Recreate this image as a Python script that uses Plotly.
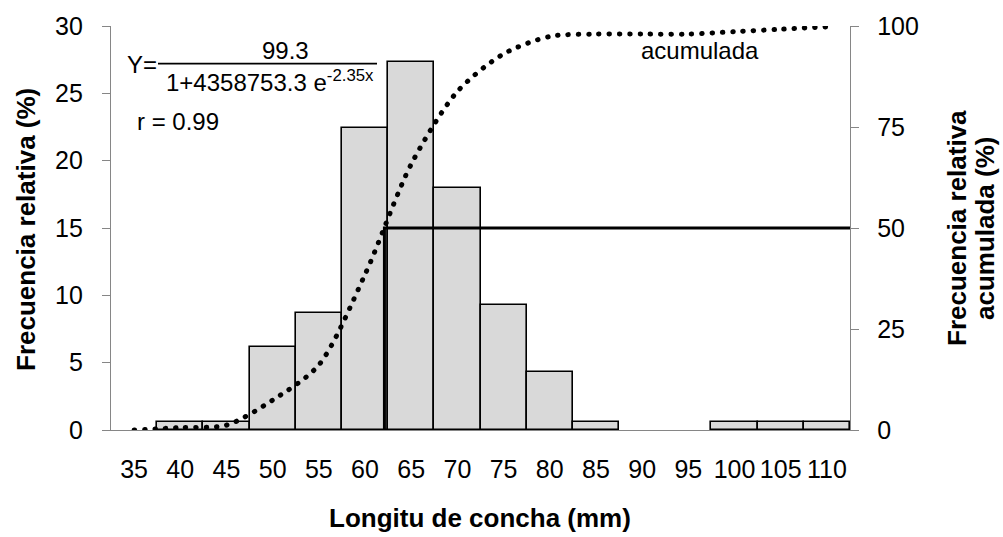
import plotly.graph_objects as go

# ---- data ----
lengths = [35, 40, 45, 50, 55, 60, 65, 70, 75, 80, 85, 90, 95, 100, 105, 110]
tick_labels = [str(v) for v in lengths]
freq_rel = [0, 0.6, 0.6, 6.2, 8.7, 22.4, 27.3, 18.0, 9.3, 4.3, 0.6, 0, 0, 0.6, 0.6, 0.6]
freq_acum = [0, 0.6, 1.2, 7.4, 16.1, 38.5, 65.8, 83.8, 93.1, 97.4, 98.0, 98.0, 98.0, 98.6, 99.2, 99.8]
median_x = 62.1
median_y = 50
left_ticks = [0, 5, 10, 15, 20, 25, 30]
right_ticks = [0, 25, 50, 75, 100]

# ---- layout geometry (pixels) ----
W, H = 1003, 537
L, R, T, B = 111, 850, 22, 430
X_RANGE = [32.5, 112.5]
FONT = "Liberation Sans, Arial, sans-serif"
AX_GRAY = "#868686"


def px(xp, yp):
    return (xp - L) / (R - L), (B - yp) / (B - T)


fig = go.Figure()

fig.add_trace(go.Bar(
    x=lengths,
    y=[v if v > 0 else None for v in freq_rel],
    width=5,
    marker=dict(color="#d9d9d9", line=dict(color="black", width=1.6)),
    showlegend=False,
    hoverinfo="skip",
))

fig.add_trace(go.Scatter(
    x=[median_x, median_x, X_RANGE[1]],
    y=[0, median_y, median_y],
    yaxis="y2",
    mode="lines",
    line=dict(color="black", width=3),
    showlegend=False,
    hoverinfo="skip",
))

fig.add_trace(go.Scatter(
    x=lengths,
    y=freq_acum,
    yaxis="y2",
    mode="lines",
    line=dict(color="black", width=5, dash="0.5px,9.8px", shape="spline", smoothing=0.8),
    showlegend=False,
    hoverinfo="skip",
))

tickfont = dict(family=FONT, size=25, color="black")

fig.update_layout(
    width=W, height=H,
    margin=dict(l=L, r=W - R, t=T, b=H - B, pad=0),
    paper_bgcolor="white", plot_bgcolor="white",
    bargap=0,
    xaxis=dict(
        range=X_RANGE, tickmode="array", tickvals=lengths, ticktext=tick_labels,
        showline=True, linecolor=AX_GRAY, linewidth=1.3, ticks="", showgrid=False,
        zeroline=False, tickfont=tickfont, ticklabelstandoff=17, fixedrange=True,
    ),
    yaxis=dict(
        range=[0, 30], tickmode="array", tickvals=left_ticks,
        showline=True, linecolor=AX_GRAY, linewidth=1.3, ticks="outside", ticklen=8,
        tickcolor=AX_GRAY, tickwidth=1.3, showgrid=False, zeroline=False,
        tickfont=tickfont, ticklabelstandoff=14,
    ),
    yaxis2=dict(
        range=[0, 100], tickmode="array", tickvals=right_ticks, overlaying="y", side="right",
        showline=True, linecolor=AX_GRAY, linewidth=1.3, ticks="outside", ticklen=8,
        tickcolor=AX_GRAY, tickwidth=1.3, showgrid=False, zeroline=False,
        tickfont=tickfont, ticklabelstandoff=13,
    ),
)

ann = []


def add_text(text, xp, yp, size=24, bold=False, angle=0):
    fx, fy = px(xp, yp)
    ann.append(dict(
        text=f"<b>{text}</b>" if bold else text,
        x=fx, y=fy, xref="paper", yref="paper",
        xanchor="center", yanchor="middle", showarrow=False, textangle=angle,
        font=dict(family=FONT, size=size, color="black"),
    ))


add_text("Y=", 142, 61)
add_text("99.3", 285, 47)
add_text("1+4358753.3 e<sup>-2.35x</sup>", 270, 78)
add_text("r = 0.99", 178, 118)
add_text("acumulada", 700, 47)
add_text("Frecuencia relativa (%)", 26, 228, size=26, bold=True, angle=-90)
add_text("Frecuencia relativa", 957, 226, size=26, bold=True, angle=-90)
add_text("acumulada (%)", 985, 226, size=26, bold=True, angle=-90)
add_text("Longitu de concha (mm)", 480, 519, size=26, bold=True)
fig.update_layout(annotations=ann)

fx0, fy0 = px(158, 60)
fx1, _ = px(377, 60)
fig.add_shape(type="line", xref="paper", yref="paper", x0=fx0, x1=fx1, y0=fy0, y1=fy0,
              line=dict(color="black", width=1.6))

post = (
    "var s=document.createElement('style');"
    "s.textContent='html,body{margin:0!important;padding:0!important;overflow:hidden;}"
    ".scatterlayer .js-line{stroke-linecap:round !important;}';"
    "document.head.appendChild(s);"
)
fig.write_html("out.html", config={"displayModeBar": False}, post_script=post)
